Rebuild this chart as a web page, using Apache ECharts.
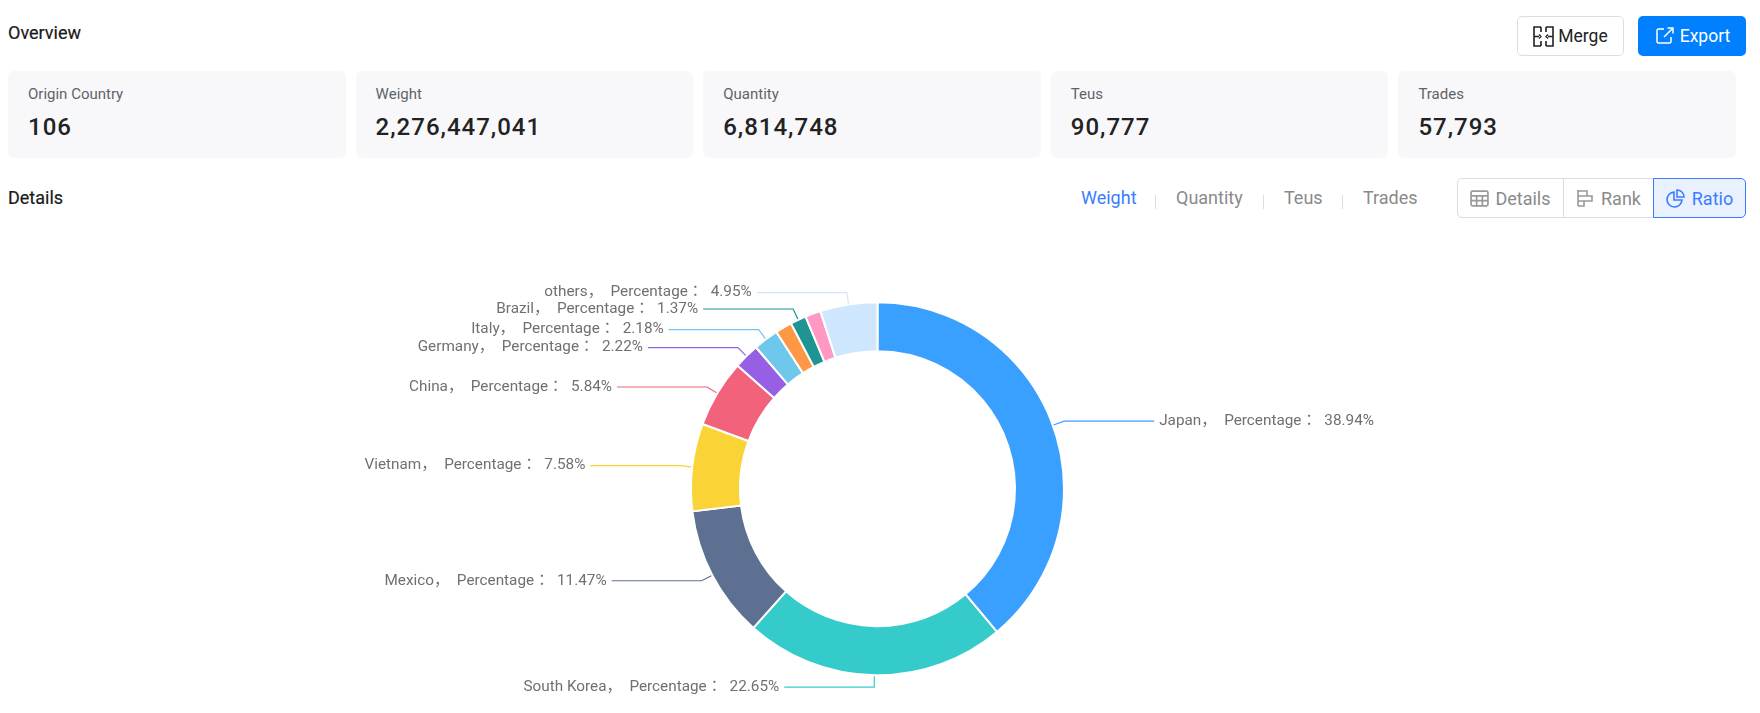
<!DOCTYPE html>
<html>
<head>
<meta charset="utf-8">
<title>Overview</title>
<script src="https://cdn.jsdelivr.net/npm/echarts@6/dist/echarts.min.js"></script>
<style>
html, body { margin: 0; padding: 0; background: #fff; }
body { position: relative; width: 1760px; height: 713px; overflow: hidden; font-family: Roboto, "Noto Sans CJK JP", sans-serif; }
.abs { position: absolute; white-space: nowrap; }
.heading { left: 8px; font-size: 18px; font-weight: 400; -webkit-text-stroke: 0.2px #1a1a1a; color: #1a1a1a; line-height: 24px; }
.cards { left: 8px; top: 71px; width: 1728px; display: flex; gap: 10px; }
.card { flex: 1; height: 87px; background: #f8f8fa; border-radius: 6px; position: relative; }
.card .name { position: absolute; left: 20px; top: 13px; font-size: 15px; line-height: 20px; color: #5f6368; }
.card .val { position: absolute; left: 20px; top: 40px; font-size: 24px; line-height: 32px; font-weight: 500; letter-spacing: 1px; color: #222; }
.btn { top: 16px; height: 40px; box-sizing: border-box; border-radius: 5px; display: flex; align-items: center; justify-content: center; gap: 4px; font-size: 17.5px; }
.merge { left: 1517px; width: 107px; border: 1px solid #dedede; color: #222; background: #fff; }
.export { left: 1638px; width: 108px; gap: 6px; padding-left: 2px; background: #0080ff; color: #fff; }
.tab { top: 186px; font-size: 18px; line-height: 24px; color: #8a8a8a; }
.tab.on { color: #3b7cff; }
.sep { top: 195px; width: 1px; height: 14px; background: #ddd; }
.seg { top: 178px; height: 40px; box-sizing: border-box; display: flex; align-items: center; justify-content: center; gap: 7px; font-size: 18px; color: #8a8a8a; border: 1px solid #dcdcdc; background: #fff; }
.seg.on { color: #3b7cff; border-color: #3b7cff; background: #e9f1ff; }
#chart-container { position: absolute; left: 0; top: 230px; width: 1760px; height: 483px; }
</style>
</head>
<body>
<div class="abs heading" style="top:21px">Overview</div>
<div class="abs btn merge">
	<svg width="21" height="21" viewBox="0 0 21 21" fill="none" stroke="#222" stroke-width="1.6"><path d="M8 1H1v19h7M13 1h7v19h-7M8 1v5M8 15v5M13 1v5M13 15v5M1 10.5h5M20 10.5h-5"/><path d="M6 8.5l2 2-2 2M15 8.5l-2 2 2 2" stroke-width="1.3"/></svg>
	<span>Merge</span>
</div>
<div class="abs btn export">
	<svg width="18" height="18" viewBox="0 0 18 18" fill="none" stroke="#fff" stroke-width="1.5"><path d="M8 2H2.5A1.5 1.5 0 0 0 1 3.5v11A1.5 1.5 0 0 0 2.5 16h11a1.5 1.5 0 0 0 1.5-1.5V10M8 10l9-9M11.5 1H17v5.5"/></svg>
	<span>Export</span>
</div>
<div class="abs cards" id="cards"></div>
<div class="abs heading" style="top:186px">Details</div>
<div id="tabs"></div>
<div class="abs seg" style="left:1457px;width:107px;gap:6px;border-radius:5px 0 0 5px">
	<svg width="19" height="19" viewBox="0 0 18 18" fill="none" stroke="#999" stroke-width="1.6"><rect x="1" y="2" width="16" height="14" rx="1.5"/><path d="M1 6.5h16M1 11h16M6.3 6.5V16M11.7 6.5V16"/></svg>
	<span>Details</span>
</div>
<div class="abs seg" style="left:1563px;width:91px">
	<svg width="18" height="18" viewBox="0 0 18 18" fill="none" stroke="#999" stroke-width="1.6"><path d="M2 1v16M2 2h9v5H2M2 7h14v5H2M2 12h6v5H2"/></svg>
	<span>Rank</span>
</div>
<div class="abs seg on" style="left:1653px;width:93px;border-radius:0 5px 5px 0">
	<svg width="19" height="19" viewBox="0 0 19 19" fill="none" stroke="#3b7cff" stroke-width="1.6"><path d="M8 3a7.5 7.5 0 1 0 8 8H8z"/><path d="M11 1a7 7 0 0 1 7 7h-7z"/></svg>
	<span>Ratio</span>
</div>
<div id="chart-container"></div>
<script>
// overview cards
var cardNames = ['Origin Country', 'Weight', 'Quantity', 'Teus', 'Trades'];
var cardValues = ['106', '2,276,447,041', '6,814,748', '90,777', '57,793'];

// metric tabs
var tabNames = ['Weight', 'Quantity', 'Teus', 'Trades'];
var tabLeft = [1081, 1176, 1284, 1363];
var sepLeft = [1155, 1263, 1342];

// pie data, the orange and pink slices have no label in the picture
var countries = ['Japan', 'South Korea', 'Mexico', 'Vietnam', 'China', 'Germany', 'Italy', '', 'Brazil', ' ', 'others'];
var percents = [38.94, 22.65, 11.47, 7.58, 5.84, 2.22, 2.18, 1.45, 1.37, 1.35, 4.95];
var colors = ['#3aa0ff', '#36cbcb', '#5d7092', '#fad337', '#f2637b', '#975fe4', '#6dc8ec', '#ff9845', '#1e9493', '#ff99c3', '#cfe6ff'];

document.getElementById('cards').innerHTML = cardNames.map(function(n, i) {
	return '<div class="card"><div class="name">' + n + '</div><div class="val">' + cardValues[i] + '</div></div>';
}).join('');

var tabHtml = tabNames.map(function(n, i) {
	return '<div class="abs tab' + (i === 0 ? ' on' : '') + '" style="left:' + tabLeft[i] + 'px">' + n + '</div>';
}).join('');
sepLeft.forEach(function(x) {
	tabHtml += '<div class="abs sep" style="left:' + x + 'px"></div>';
});
document.getElementById('tabs').innerHTML = tabHtml;

var chartDom = document.getElementById('chart-container');
var myChart = echarts.init(chartDom);
var option;

option = {
	animation: false,
	color: colors,
	series: [
		{
			type: 'pie',
			center: [877.5, 258.7],
			radius: [137.5, 186.5],
			startAngle: 90,
			clockwise: true,
			avoidLabelOverlap: false,
			itemStyle: {
				borderColor: '#fff',
				borderWidth: 2
			},
			label: {
				color: '#707070',
				fontSize: 15.3,
				padding: [2, 0, 0, 0],
				fontFamily: 'Roboto, "Noto Sans CJK JP", sans-serif',
				formatter: function(params) {
					return params.name + '，  Percentage：  ' + params.value + '%';
				}
			},
			labelLine: {
				length: 12,
				length2: 90,
				lineStyle: { width: 1.2 }
			},
			data: countries.map(function(name, i) {
				var item = { name: name, value: percents[i] };
				if (!name.trim()) {
					item.label = { show: false };
					item.labelLine = { show: false };
				}
				return item;
			})
		}
	]
};

myChart.setOption(option);

window.addEventListener('resize', function() {
	myChart.resize();
});
</script>
</body>
</html>
